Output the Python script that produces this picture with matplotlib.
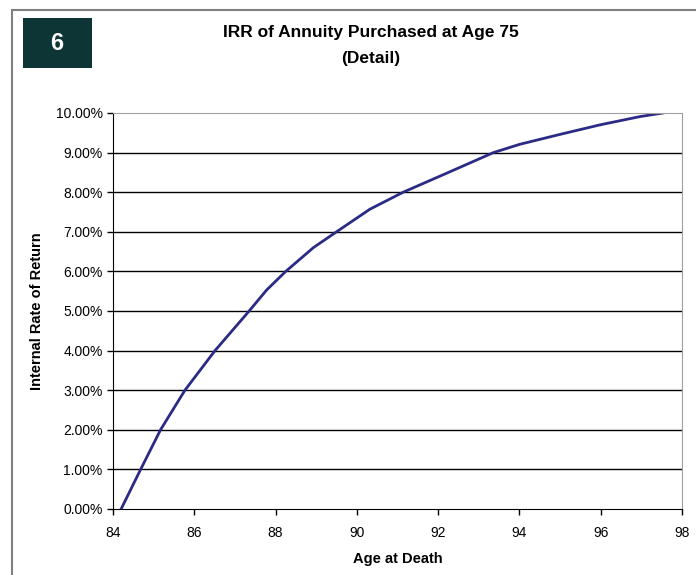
import matplotlib.pyplot as plt
from matplotlib.patches import Rectangle
from matplotlib.ticker import FuncFormatter

plt.rcParams['font.family'] = ['Liberation Sans', 'DejaVu Sans']

# age at death vs IRR (%)
age = [84.20, 84.68, 85.17, 85.77, 86.51, 87.35, 87.78, 88.25, 88.93, 89.50,
       90.32, 91.14, 92.21, 93.36, 94.01, 95.00, 95.98, 96.97, 97.53]
irr = [0.0, 1.0, 2.0, 3.0, 4.0, 5.0, 5.53, 6.0, 6.6, 7.0,
       7.57, 8.0, 8.48, 9.0, 9.21, 9.46, 9.70, 9.91, 10.0]

xticks = [84, 86, 88, 90, 92, 94, 96, 98]
yticks = [0, 1, 2, 3, 4, 5, 6, 7, 8, 9, 10]

fig = plt.figure(figsize=(6.96, 5.75), dpi=100)
ax = fig.add_axes([113/696, 1 - 509/575, (682-113)/696, (509-113)/575])

# outer frame
fig.patches.append(Rectangle((12/696, -0.1), 1.2, 1 - 10/575 + 0.1, transform=fig.transFigure,
                             fill=False, edgecolor='#7f7f7f', linewidth=1.5))
# number box
fig.patches.append(Rectangle((23/696, 1 - 68/575), 69/696, 50/575, transform=fig.transFigure,
                             facecolor='#0e3535', edgecolor='none'))
fig.text(57/696, 1 - 43/575, '6', color='white', fontsize=17, fontweight='bold',
         ha='center', va='center')

fig.text(371/696, 1 - 33/575, 'IRR of Annuity Purchased at Age 75', fontsize=12.5,
         fontweight='bold', ha='center', va='center')
fig.text(371/696, 1 - 58/575, '(Detail)', fontsize=12.5, fontweight='bold',
         ha='center', va='center')

ax.plot(age, irr, color='#2b2b86', linewidth=2)

ax.set_xlim(84, 98)
ax.set_ylim(0, 10)
ax.set_xticks(xticks)
ax.set_yticks(yticks)
ax.yaxis.set_major_formatter(FuncFormatter(lambda v, p: f'{v:.2f}%'))
for y in yticks[1:-1]:
    ax.axhline(y, color='black', linewidth=1, zorder=0)

ax.spines['top'].set_color('#a0a0a0')
ax.spines['right'].set_color('#a0a0a0')
ax.spines['left'].set_color('black')
ax.spines['bottom'].set_color('black')
ax.tick_params(direction='out', length=4, width=1, labelsize=10, colors='black')
ax.tick_params(axis='x', pad=8)

ax.set_xlabel('Age at Death', fontsize=10.5, fontweight='bold', labelpad=9)
ax.set_ylabel('Internal Rate of Return', fontsize=10.5, fontweight='bold', labelpad=8)

fig.savefig('out.png', dpi=100)
